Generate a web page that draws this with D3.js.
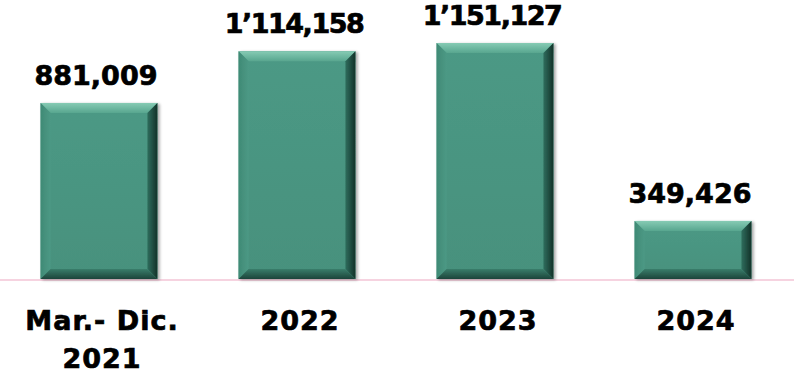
<!DOCTYPE html>
<html>
<head>
<meta charset="utf-8">
<script src="https://cdn.jsdelivr.net/npm/d3@7"></script>
<style>
  body { margin: 0; background: #fff; }
  text { font-family: "DejaVu Sans", sans-serif; font-weight: bold; fill: #000; stroke: #000; stroke-width: 0.7px; }
</style>
</head>
<body>
<script>
var categories = [["Mar.- Dic.", "2021"], ["2022"], ["2023"], ["2024"]];
var values = [881009, 1114158, 1151127, 349426];

var width = 794, height = 375,
    baseY = 279,
    bevel = 10;

var svg = d3.select("body").append("svg")
    .attr("width", width)
    .attr("height", height);

var x = d3.scaleBand()
    .domain(d3.range(values.length))
    .range([-1, 793])
    .paddingInner(0.41)
    .paddingOuter(0.21);

// axis does not start at zero in the original chart
var y = d3.scaleLinear()
    .domain([88000, 1151127])
    .range([baseY, 43]);

// 1'114,158 style: apostrophe for millions, comma for thousands
function fmt(v) {
  var s = d3.format(",")(v);
  if (v >= 1e6) s = s.replace(",", "\u2019");
  return s;
}

var defs = svg.append("defs");
function grad(id, x2, y2, stops) {
  var g = defs.append("linearGradient").attr("id", id)
      .attr("x1", 0).attr("y1", 0).attr("x2", x2).attr("y2", y2);
  stops.forEach(function (s) {
    g.append("stop").attr("offset", s[0]).attr("stop-color", s[1]);
  });
}
grad("gTop", 0, 1, [[0, "#86cbb4"], [1, "#58a68f"]]);
grad("gLeft", 1, 0, [[0, "#3f8a75"], [1, "#4d9985"]]);
grad("gRight", 1, 0, [[0, "#2f6d5d"], [1, "#123229"]]);
grad("gBot", 0, 1, [[0, "#3a7d6b"], [1, "#1c443a"]]);
grad("gFace", 0, 1, [[0, "#4c9985"], [1, "#47917d"]]);

var f = defs.append("filter").attr("id", "shadow")
    .attr("x", "-10%").attr("y", "-10%").attr("width", "130%").attr("height", "130%");
f.append("feGaussianBlur").attr("in", "SourceAlpha").attr("stdDeviation", 1.5);
f.append("feOffset").attr("dx", 2).attr("dy", 1).attr("result", "b");
f.append("feComponentTransfer").append("feFuncA").attr("type", "linear").attr("slope", 0.35);
var m = f.append("feMerge");
m.append("feMergeNode");
m.append("feMergeNode").attr("in", "SourceGraphic");

// baseline
svg.append("line")
    .attr("x1", 0).attr("x2", width)
    .attr("y1", baseY + 1).attr("y2", baseY + 1)
    .attr("stroke", "#f3c4d6")
    .attr("stroke-width", 1.5);

var bars = svg.selectAll("g.bar")
    .data(values)
    .enter().append("g")
    .attr("class", "bar")
    .attr("filter", "url(#shadow)");

function pts(a) { return a.map(function (p) { return p.join(","); }).join(" "); }

bars.each(function (d, i) {
  var g = d3.select(this),
      x0 = x(i), x1 = x(i) + x.bandwidth(),
      y0 = y(d), y1 = baseY,
      b = Math.min(bevel, (y1 - y0) / 3);
  g.append("rect").attr("x", x0).attr("y", y0)
      .attr("width", x1 - x0).attr("height", y1 - y0)
      .attr("fill", "url(#gFace)");
  g.append("polygon").attr("points", pts([[x0, y0], [x1, y0], [x1 - b, y0 + b], [x0 + b, y0 + b]]))
      .attr("fill", "url(#gTop)");
  g.append("polygon").attr("points", pts([[x0, y0], [x0 + b, y0 + b], [x0 + b, y1 - b], [x0, y1]]))
      .attr("fill", "url(#gLeft)");
  g.append("polygon").attr("points", pts([[x1, y0], [x1, y1], [x1 - b, y1 - b], [x1 - b, y0 + b]]))
      .attr("fill", "url(#gRight)");
  g.append("polygon").attr("points", pts([[x0, y1], [x0 + b, y1 - b], [x1 - b, y1 - b], [x1, y1]]))
      .attr("fill", "url(#gBot)");
});

// value labels
svg.selectAll("text.val")
    .data(values)
    .enter().append("text")
    .attr("class", "val")
    .attr("x", function (d, i) { return x(i) + x.bandwidth() / 2 - 3; })
    .attr("y", function (d) { return y(d) - 18; })
    .attr("text-anchor", "middle")
    .attr("font-size", 27)
    .attr("letter-spacing", function (d) { return d >= 1e6 ? -1.5 : 0; })
    .text(fmt);

// category labels
var cat = svg.selectAll("text.cat")
    .data(categories)
    .enter().append("text")
    .attr("class", "cat")
    .attr("x", function (d, i) { return x(i) + x.bandwidth() / 2 + 3; })
    .attr("y", 330)
    .attr("text-anchor", "middle")
    .attr("font-size", 27)
    .attr("letter-spacing", 1);

cat.selectAll("tspan")
    .data(function (d) { return d; })
    .enter().append("tspan")
    .attr("x", function () { return d3.select(this.parentNode).attr("x"); })
    .attr("dy", function (d, j) { return j ? 38 : 0; })
    .text(function (d) { return d; });
</script>
</body>
</html>
